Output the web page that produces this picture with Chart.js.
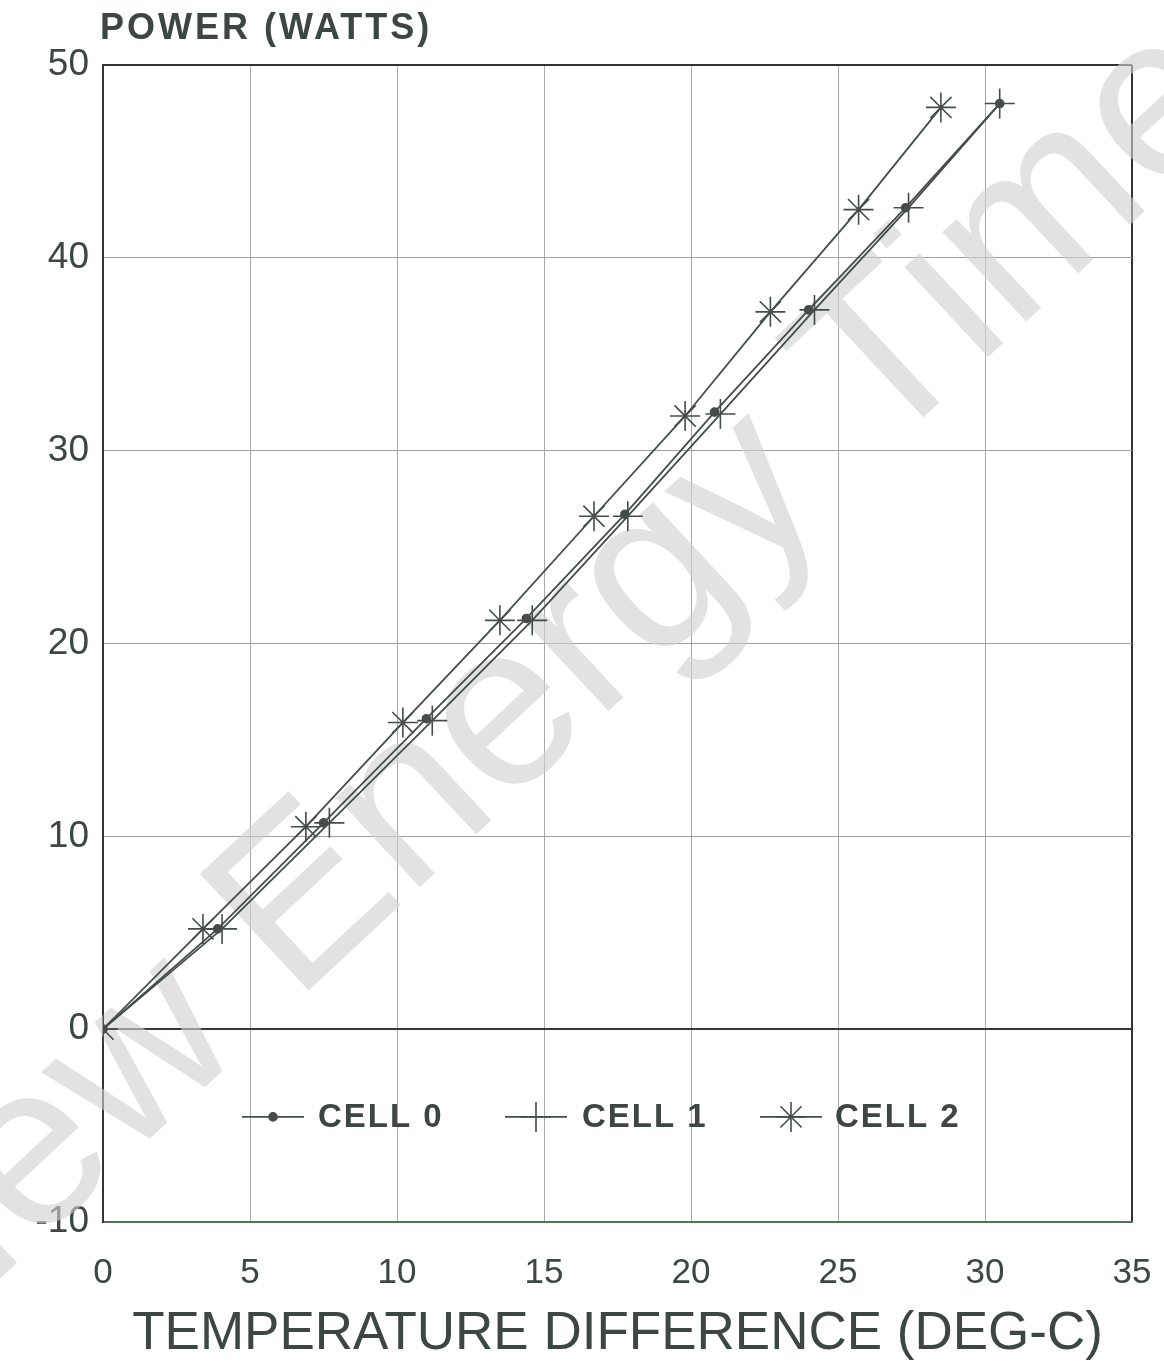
<!DOCTYPE html>
<html>
<head>
<meta charset="utf-8">
<script src="https://cdn.jsdelivr.net/npm/chart.js@4.4.1/dist/chart.umd.min.js"></script>
<style>
  html, body { margin: 0; padding: 0; background: #fff; }
  #box { width: 1164px; height: 1364px; position: relative; }
</style>
</head>
<body>
<div id="box"><canvas id="c"></canvas></div>
<script>
/* Werte */
const cell0X = [0, 3.9, 7.5, 11.0, 14.4, 17.75, 20.8, 24.0, 27.3, 30.5];
const cell0Y = [0, 5.2, 10.7, 16.1, 21.3, 26.7, 32.0, 37.3, 42.6, 48.0];
const cell1X = [0, 4.05, 7.7, 11.2, 14.6, 17.85, 21.0, 24.2, 27.4, 30.5];
const cell1Y = [0, 5.2, 10.7, 16.0, 21.2, 26.6, 31.9, 37.3, 42.6, 48.0];
const cell2X = [0, 3.4, 6.9, 10.2, 13.5, 16.7, 19.8, 22.7, 25.7, 28.5];
const cell2Y = [0, 5.2, 10.5, 15.9, 21.2, 26.6, 31.8, 37.2, 42.5, 47.8];
const seriesNames = ["CELL 0", "CELL 1", "CELL 2"];
const yTitle = "POWER (WATTS)";
const xTitle = "TEMPERATURE DIFFERENCE (DEG-C)";
const watermark = "New Energy Times";

const INK = "#3c4744", LINE = "#454d4b";
const FONT = "'Liberation Sans', Arial, sans-serif";

const pts = (xs, ys) => xs.map((x, i) => ({ x, y: ys[i] }));

function ds(label, data, style, radius) {
  return {
    label, data,
    borderColor: LINE, backgroundColor: LINE,
    borderWidth: 1.8,
    pointStyle: style, pointRadius: radius, pointBorderWidth: 1.6,
    pointBorderColor: LINE, pointBackgroundColor: LINE,
    tension: 0, showLine: true,
  };
}

/* Wasserzeichen hinter den Linien */
const watermarkPlugin = {
  id: "watermark",
  beforeDatasetsDraw(chart) {
    const ctx = chart.ctx;
    ctx.save();
    ctx.translate(578, 652);
    ctx.rotate(-43 * Math.PI / 180);
    ctx.font = "232px " + FONT;
    ctx.fillStyle = "rgba(208,208,208,0.62)";
    ctx.textAlign = "center";
    ctx.textBaseline = "middle";
    ctx.fillText(watermark, 0, 0);
    ctx.restore();
  },
};

/* Y-Titel oben links + Legende im Plotbereich */
const decoPlugin = {
  id: "deco",
  afterDraw(chart) {
    const ctx = chart.ctx;
    const { left } = chart.chartArea;
    const y0 = chart.scales.y.getPixelForValue(-4.55);
    ctx.save();
    ctx.fillStyle = INK;
    ctx.font = "bold 36px " + FONT;
    ctx.textBaseline = "middle";
    ctx.textAlign = "left";
    ctx.letterSpacing = "3px";
    ctx.fillText(yTitle, left - 3, 29);

    const items = [
      { lx: 139, style: "circle", r: 4, tx: 215 },
      { lx: 402, style: "cross", r: 15, tx: 479 },
      { lx: 657, style: "star", r: 15, tx: 732 },
    ];
    ctx.font = "bold 33px " + FONT;
    ctx.letterSpacing = "2px";
    items.forEach((it, i) => {
      const x1 = left + it.lx, x2 = x1 + 62;
      ctx.strokeStyle = LINE;
      ctx.lineWidth = 1.6;
      ctx.beginPath();
      ctx.moveTo(x1, y0);
      ctx.lineTo(x2, y0);
      ctx.stroke();
      ctx.fillStyle = LINE;
      Chart.helpers.drawPoint(ctx, { pointStyle: it.style, radius: it.r, borderWidth: 1.6 }, (x1 + x2) / 2, y0);
      ctx.fillStyle = INK;
      ctx.fillText(seriesNames[i], left + it.tx, y0 + 1);
    });
    ctx.restore();
  },
};

new Chart(document.getElementById("c"), {
  type: "scatter",
  data: {
    datasets: [
      ds(seriesNames[0], pts(cell0X, cell0Y), "circle", 4),
      ds(seriesNames[1], pts(cell1X, cell1Y), "cross", 15),
      ds(seriesNames[2], pts(cell2X, cell2Y), "star", 15),
    ],
  },
  options: {
    responsive: true,
    maintainAspectRatio: false,
    animation: false,
    layout: { padding: { top: 65, right: 32, left: 0, bottom: 0 } },
    plugins: { legend: { display: false }, tooltip: { enabled: false } },
    scales: {
      x: {
        type: "linear", min: 0, max: 35,
        afterFit: (s) => { s.height = 142; s.paddingRight = 0; s.paddingLeft = 0; },
        ticks: { stepSize: 5, color: INK, padding: 30, font: { family: FONT, size: 35 } },
        grid: {
          drawTicks: false,
          color: (c) => (c.tick && c.tick.value === 35 ? "#333" : "#a8a8a8"),
          lineWidth: (c) => (c.tick && c.tick.value === 35 ? 2 : 1),
        },
        border: { color: "#4f7555", width: 2 },
        title: {
          display: true, text: xTitle, color: INK,
          font: { family: FONT, size: 53, lineHeight: 1 },
          padding: { top: 0, bottom: 3 },
        },
      },
      y: {
        type: "linear", min: -10, max: 50,
        afterFit: (s) => { s.width = 103; s.paddingTop = 0; s.paddingBottom = 0; },
        ticks: { stepSize: 10, color: INK, padding: 14, font: { family: FONT, size: 37 } },
        grid: {
          drawTicks: false,
          color: (c) => {
            const v = c.tick && c.tick.value;
            return v === 50 ? "#333" : v === 0 ? "#3a3a3a" : "#a0a0a0";
          },
          lineWidth: (c) => {
            const v = c.tick && c.tick.value;
            return v === 50 || v === 0 ? 2 : 1;
          },
        },
        border: { color: "#333", width: 2 },
      },
    },
  },
  plugins: [watermarkPlugin, decoPlugin],
});
</script>
</body>
</html>
